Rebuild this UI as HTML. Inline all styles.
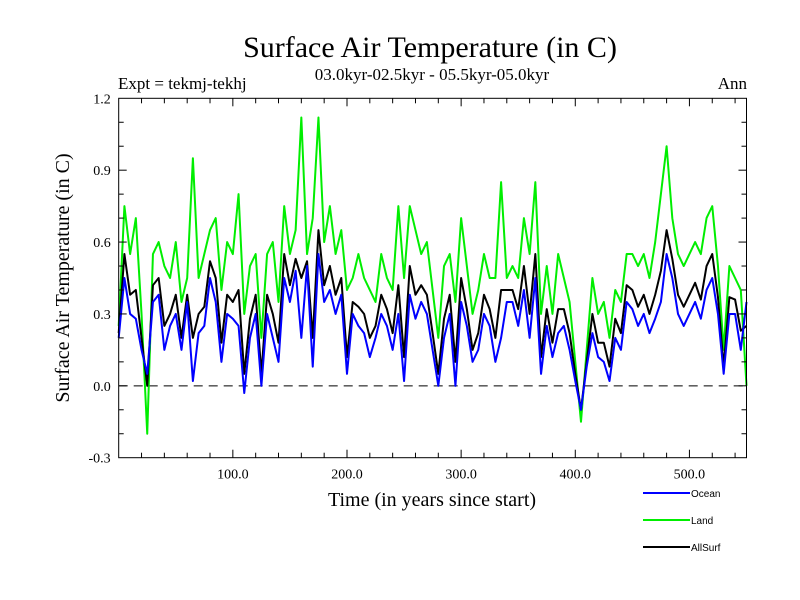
<!DOCTYPE html>
<html><head><meta charset="utf-8"><style>
body{margin:0;background:#fff}
svg{display:block}
.s{font-family:"Liberation Serif",serif;fill:#000}
.l{font-family:"Liberation Sans",sans-serif;font-size:10px;fill:#000}
</style></head><body>
<svg id="c" width="800" height="600">
<text class="s" x="430" y="57" font-size="30" text-anchor="middle">Surface Air Temperature (in C)</text>
<text class="s" x="432" y="80" font-size="17" text-anchor="middle">03.0kyr-02.5kyr - 05.5kyr-05.0kyr</text>
<text class="s" x="118" y="89" font-size="17">Expt = tekmj-tekhj</text>
<text class="s" x="747" y="89" font-size="17" text-anchor="end">Ann</text>
<text class="s" x="0" y="0" font-size="20" text-anchor="middle" transform="translate(69,278) rotate(-90)">Surface Air Temperature (in C)</text>
<text class="s" x="432" y="506" font-size="20" text-anchor="middle">Time (in years since start)</text>
<g id="plot"></g>
</svg>
<script>
const years=[];for(let i=0;i<=110;i++)years.push(i*5);
const ocean=[0.2,0.45,0.3,0.28,0.15,0.05,0.35,0.38,0.15,0.25,0.3,0.15,0.35,0.02,0.22,0.25,0.45,0.35,0.1,0.3,0.28,0.25,-0.03,0.2,0.3,0.0,0.3,0.2,0.1,0.45,0.35,0.48,0.2,0.5,0.08,0.55,0.35,0.4,0.3,0.38,0.05,0.3,0.25,0.22,0.12,0.2,0.3,0.25,0.15,0.3,0.02,0.38,0.28,0.35,0.3,0.15,0.0,0.2,0.3,0.0,0.35,0.25,0.1,0.15,0.3,0.25,0.1,0.2,0.35,0.35,0.25,0.4,0.2,0.45,0.05,0.25,0.12,0.22,0.25,0.15,0.02,-0.1,0.08,0.22,0.12,0.1,0.02,0.2,0.15,0.35,0.32,0.25,0.3,0.22,0.28,0.35,0.55,0.45,0.3,0.25,0.3,0.35,0.28,0.4,0.45,0.3,0.05,0.3,0.3,0.15,0.35];
const land=[0.25,0.75,0.55,0.7,0.3,-0.2,0.55,0.6,0.5,0.45,0.6,0.35,0.45,0.95,0.45,0.55,0.65,0.7,0.4,0.6,0.55,0.8,0.3,0.5,0.55,0.2,0.55,0.6,0.35,0.75,0.55,0.65,1.12,0.55,0.7,1.12,0.6,0.75,0.55,0.65,0.4,0.45,0.55,0.45,0.4,0.35,0.55,0.45,0.4,0.75,0.45,0.75,0.65,0.55,0.6,0.4,0.2,0.5,0.55,0.35,0.7,0.5,0.3,0.4,0.55,0.45,0.45,0.85,0.45,0.5,0.45,0.7,0.55,0.85,0.3,0.5,0.3,0.55,0.45,0.35,0.1,-0.15,0.15,0.45,0.3,0.35,0.2,0.4,0.35,0.55,0.55,0.5,0.55,0.45,0.6,0.8,1.0,0.7,0.55,0.5,0.55,0.6,0.55,0.7,0.75,0.5,0.15,0.5,0.45,0.4,0.0];
const allsurf=[0.22,0.55,0.38,0.4,0.2,0.0,0.42,0.45,0.25,0.3,0.38,0.2,0.38,0.2,0.3,0.33,0.52,0.45,0.18,0.38,0.35,0.4,0.05,0.28,0.38,0.05,0.38,0.3,0.18,0.55,0.42,0.53,0.45,0.52,0.2,0.65,0.42,0.5,0.38,0.45,0.12,0.35,0.33,0.3,0.2,0.25,0.38,0.32,0.22,0.42,0.12,0.5,0.38,0.42,0.38,0.22,0.05,0.28,0.38,0.1,0.45,0.32,0.15,0.22,0.38,0.32,0.2,0.4,0.4,0.4,0.32,0.5,0.3,0.55,0.12,0.32,0.18,0.32,0.32,0.22,0.05,-0.1,0.1,0.3,0.18,0.18,0.08,0.28,0.22,0.42,0.4,0.33,0.38,0.3,0.38,0.48,0.65,0.53,0.38,0.33,0.38,0.43,0.36,0.5,0.55,0.37,0.08,0.37,0.36,0.23,0.25];
const xTicks=[100,200,300,400,500];
const xTickLabels=["100.0","200.0","300.0","400.0","500.0"];
const yTicks=[-0.3,0,0.3,0.6,0.9,1.2];
const yTickLabels=["-0.3","0.0","0.3","0.6","0.9","1.2"];
const X0=118.7,X1=746.5,Y0=457.7,Y1=98.3;
const xs=v=>X0+(v-0)/(550-0)*(X1-X0);
const ys=v=>Y0-(v+0.3)/1.5*(Y0-Y1);
const NS="http://www.w3.org/2000/svg",g=document.getElementById('plot');
function mk(t,a){const e=document.createElementNS(NS,t);for(const k in a)e.setAttribute(k,a[k]);g.appendChild(e);return e;}
// zero line
let z=mk('line',{x1:X0,x2:X1,y1:ys(0),y2:ys(0),stroke:'#000','stroke-dasharray':'9,6','stroke-width':1});


function series(vals,col,name){
  const p=mk('polyline',{points:vals.map((v,i)=>xs(years[i])+','+ys(v)).join(' '),fill:'none',stroke:col,'stroke-width':2,'stroke-linejoin':'round'});
  
  
}
series(land,'#00ee00','land-line');
series(allsurf,'#000','allsurf-line');
series(ocean,'#0000ff','ocean-line');
// frame
let f=mk('rect',{x:X0,y:Y1,width:X1-X0,height:Y0-Y1,fill:'none',stroke:'#000','stroke-width':1});


// minor ticks
for(let v=20;v<550;v+=20){
  const big=v%100===0, L=big?8:5;
  mk('line',{x1:xs(v),x2:xs(v),y1:Y0,y2:Y0-L,stroke:'#000'});
  mk('line',{x1:xs(v),x2:xs(v),y1:Y1,y2:Y1+L,stroke:'#000'});
}
for(let k=-2;k<12;k++){
  const v=k/10, big=(k%3===0), L=big?8:5;
  mk('line',{x1:X0,x2:X0+L,y1:ys(v),y2:ys(v),stroke:'#000'});
  mk('line',{x1:X1,x2:X1-L,y1:ys(v),y2:ys(v),stroke:'#000'});
}
xTicks.forEach((v,i)=>{
  const t=mk('text',{x:xs(v),y:Y0+21,'text-anchor':'middle','font-size':14,class:'s'});t.textContent=xTickLabels[i];
  
  
});
yTicks.forEach((v,i)=>{
  const t=mk('text',{x:X0-8,y:ys(v)+5,'text-anchor':'end','font-size':14,class:'s'});t.textContent=yTickLabels[i];
  
  
});
const legNames=["Ocean","Land","AllSurf"],legCols=["#0000ff","#00ee00","#000"];
legNames.forEach((n,i)=>{
  const y=493+i*27;
  const l=mk('line',{x1:643,x2:690,y1:y,y2:y,stroke:legCols[i],'stroke-width':2});
  
  
  const t=mk('text',{x:691,y:y+4,class:'l'});t.textContent=n;
  
  
});
</script>
</body></html>
